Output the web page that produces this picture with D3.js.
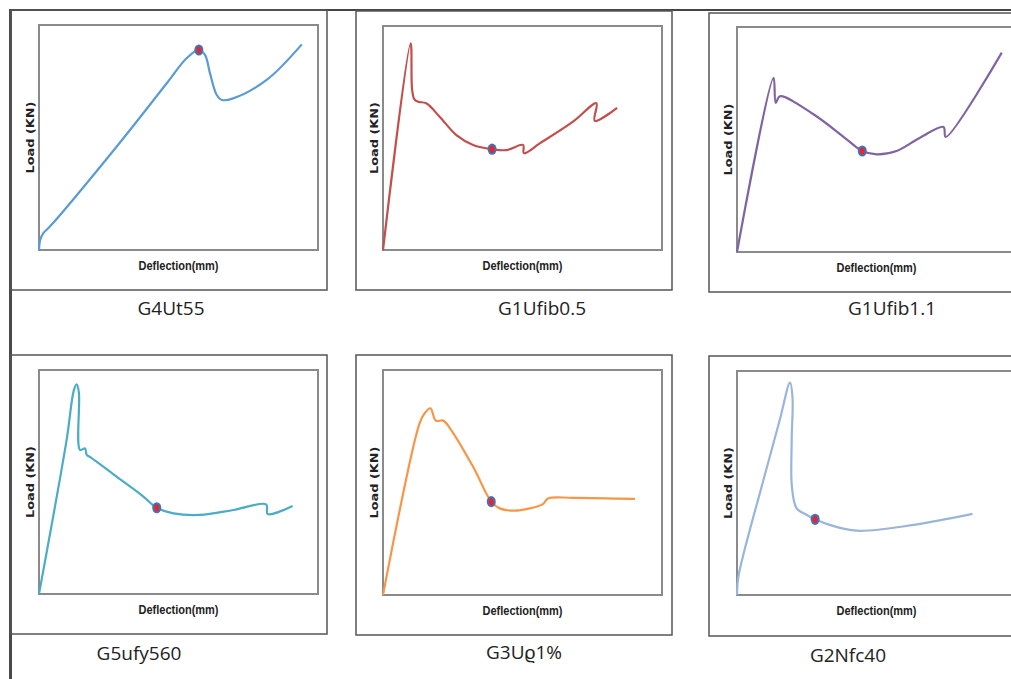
<!DOCTYPE html>
<html>
<head>
<meta charset="utf-8">
<script src="https://cdn.jsdelivr.net/npm/d3@7"></script>
<style>
  html, body { margin: 0; padding: 0; background: #fff; }
  svg { display: block; }
</style>
</head>
<body>
<svg class="sheet"></svg>
<script>
// sample names
var names = ["G4Ut55", "G1Ufib0.5", "G1Ufib1.1", "G5ufy560", "G3U\u03F11%", "G2Nfc40"];

// load-deflection curves (% of plot range)
var g4Ut55Defl = [0, 0.4, 1.5, 3.9, 27.8, 45.8, 52.9, 57.3, 59.5, 61.3, 63.7, 65.5, 69.6, 81.6, 94.2];
var g4Ut55Load = [0, 4.4, 7.4, 10.4, 45.9, 74.1, 85.2, 88.9, 86.7, 78.5, 68.9, 66.7, 67.4, 75.6, 91.4];

var g1Ufib05Defl = [0, 9.9, 10.4, 11.2, 12.6, 15.5, 20.3, 26.3, 32.3, 39.1, 44.2, 50.2, 50.5, 56.2, 68.1, 76.5, 75.9, 83.9];
var g1Ufib05Load = [0, 92.3, 72, 67.4, 66.2, 65.5, 59.5, 51.3, 46.9, 45.0, 44.6, 46.9, 43.2, 47.6, 57.3, 65.5, 57.7, 63.5];

var g1Ufib11Defl = [0, 13.1, 13.9, 15.4, 27.4, 39.3, 44.9, 50.1, 57.2, 65.6, 74.0, 74.8, 94.9];
var g1Ufib11Load = [0, 77.4, 66.3, 69.2, 61.2, 50.1, 44.9, 43.4, 44.9, 50.8, 55.6, 51.1, 88.6];

var g5ufy560Defl = [0, 9.9, 12.5, 13.5, 14.3, 14.7, 16.5, 17.1, 18.5, 27.8, 37.4, 42.2, 48.2, 57.7, 69.7, 81.4, 82.0, 90.9];
var g5ufy560Load = [0, 68.8, 91, 93.6, 90, 64.3, 65.0, 62.1, 61.0, 52.4, 43.5, 38.5, 36.0, 35.3, 37.5, 40.0, 35.7, 39.3];

var g3URho1Defl = [0, 13.1, 14.9, 17.0, 18.9, 21.6, 24.0, 32.3, 38.8, 41.8, 46.7, 52.6, 57.3, 59.1, 68.1, 90.3];
var g3URho1Load = [0, 76.3, 80.7, 83.0, 77.5, 77.5, 74.1, 57.0, 41.5, 38.5, 37.5, 38.5, 40.4, 42.9, 43.2, 42.7];

var g2Nfc40Defl = [0, 0.5, 9.4, 15.3, 19.0, 19.9, 19.6, 19.7, 21.4, 25.0, 28.0, 33.2, 42.9, 63.3, 84.4];
var g2Nfc40Load = [0, 8.2, 51, 78, 94.8, 88, 69, 48, 38.7, 35.7, 33.8, 31.3, 28.7, 31.3, 36.2];

// marked points
var markerDefl = [57.3, 39.1, 44.9, 42.2, 38.8, 28.0];
var markerLoad = [88.9, 45.0, 44.9, 38.5, 41.5, 33.8];

var series = [
  [g4Ut55Defl, g4Ut55Load],
  [g1Ufib05Defl, g1Ufib05Load],
  [g1Ufib11Defl, g1Ufib11Load],
  [g5ufy560Defl, g5ufy560Load],
  [g3URho1Defl, g3URho1Load],
  [g2Nfc40Defl, g2Nfc40Load]
];

// styles / layout
var colors = ["#5b9bd5", "#c0504d", "#8064a2", "#4bacc6", "#f79646", "#9ab5da"];

var W = 1011, H = 679;
var plotW = 279;
var panels = [
  {box: [11, 10, 327, 290], plot: [39, 25, 250],  titleX: 171, titleY: 315},
  {box: [356, 11, 672, 290], plot: [383, 26, 250], titleX: 542, titleY: 315},
  {box: [709, 13, 1030, 292], plot: [737, 27, 252], titleX: 892, titleY: 315},
  {box: [11, 355, 327, 634], plot: [39, 370, 594], titleX: 139, titleY: 660},
  {box: [356, 355, 672, 635], plot: [383, 370, 595], titleX: 524, titleY: 659},
  {box: [709, 356, 1030, 636], plot: [737, 371, 595], titleX: 848, titleY: 662}
];

var svg = d3.select("svg.sheet")
    .attr("width", W)
    .attr("height", H);

// page frame lines
svg.append("line")
    .attr("x1", 9).attr("x2", W).attr("y1", 10).attr("y2", 10)
    .attr("stroke", "#444").attr("stroke-width", 2);
svg.append("line")
    .attr("x1", 10.5).attr("x2", 10.5).attr("y1", 9).attr("y2", H)
    .attr("stroke", "#4a4a4a").attr("stroke-width", 3);

panels.forEach(function(p, i) {
  var g = svg.append("g").attr("class", "panel");

  // outer frame
  g.append("rect")
      .attr("x", p.box[0]).attr("y", p.box[1])
      .attr("width", p.box[2] - p.box[0]).attr("height", p.box[3] - p.box[1])
      .attr("fill", "none").attr("stroke", "#555").attr("stroke-width", 1.5);

  var left = p.plot[0], top = p.plot[1], bottom = p.plot[2];
  var x = d3.scaleLinear().domain([0, 100]).range([left, left + plotW]);
  var y = d3.scaleLinear().domain([0, 100]).range([bottom, top]);

  // plot area
  g.append("rect")
      .attr("x", left).attr("y", top)
      .attr("width", plotW).attr("height", bottom - top)
      .attr("fill", "none").attr("stroke", "#8a8a8a").attr("stroke-width", 2);

  // curve
  var pts = series[i][0].map(function(d, k) { return [d, series[i][1][k]]; });
  var line = d3.line()
      .x(function(d) { return x(d[0]); })
      .y(function(d) { return y(d[1]); })
      .curve(d3.curveCatmullRom.alpha(0.5));
  g.append("path")
      .attr("d", line(pts))
      .attr("fill", "none")
      .attr("stroke", colors[i])
      .attr("stroke-width", 2.2)
      .attr("stroke-linejoin", "round");

  // marker
  var mx = x(markerDefl[i]), my = y(markerLoad[i]);
  g.append("ellipse")
      .attr("cx", mx).attr("cy", my).attr("rx", 4.5).attr("ry", 5.6)
      .attr("fill", "#4670b8");
  g.append("ellipse")
      .attr("cx", mx).attr("cy", my).attr("rx", 2.3).attr("ry", 3.6)
      .attr("fill", "#e8262a");

  // axis titles
  g.append("text")
      .attr("x", left + plotW / 2)
      .attr("y", bottom + 20)
      .attr("text-anchor", "middle")
      .attr("font-family", "'Liberation Sans Narrow', 'Liberation Sans', sans-serif")
      .attr("font-weight", "bold")
      .attr("font-size", "12px")
      .attr("textLength", 80)
      .attr("lengthAdjust", "spacingAndGlyphs")
      .attr("fill", "#222")
      .text("Deflection(mm)");

  g.append("text")
      .attr("transform", "translate(" + (left - 5) + "," + ((top + bottom) / 2) + ") rotate(-90)")
      .attr("text-anchor", "middle")
      .attr("font-family", "'DejaVu Sans', sans-serif")
      .attr("font-weight", "bold")
      .attr("font-size", "10px")
      .attr("textLength", 72)
      .attr("lengthAdjust", "spacingAndGlyphs")
      .attr("fill", "#222")
      .text("Load  (KN)");

  // sample name
  g.append("text")
      .attr("x", p.titleX)
      .attr("y", p.titleY)
      .attr("text-anchor", "middle")
      .attr("font-family", "'Open Sans', sans-serif")
      .attr("font-size", "19px")
      .attr("fill", "#222")
      .text(names[i]);
});
</script>
</body>
</html>
